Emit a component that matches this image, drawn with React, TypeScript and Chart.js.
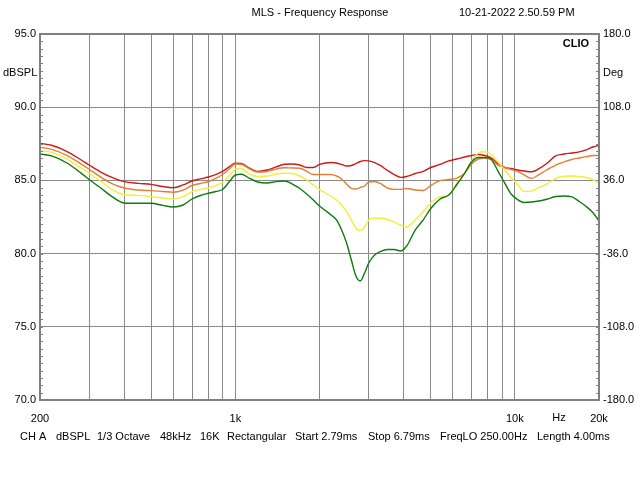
import React, { useEffect, useRef } from "react";
import { Chart, registerables } from "chart.js";

Chart.register(...registerables);

// Frequency points (Hz)
const FREQ = [
  200, 220, 250, 280, 300, 330, 360, 400, 450, 500,
  550, 600, 650, 700, 750, 800, 850, 900, 950, 1000,
  1050, 1120, 1200, 1300, 1400, 1500, 1600, 1700, 1800, 1900,
  2000, 2100, 2200, 2300, 2400, 2500, 2600, 2700, 2800, 2900,
  3000, 3150, 3300, 3500, 3700, 3900, 4100, 4400, 4700, 5000,
  5400, 5800, 6200, 6600, 7000, 7400, 7800, 8200, 8700, 9200,
  9700, 10200, 10800, 11500, 12200, 13000, 14000, 15000, 16000, 17000,
  18000, 19000, 20000,
];

// dBSPL curves
const RED = [
  87.53, 87.40, 86.97, 86.41, 86.05, 85.57, 85.22, 84.92, 84.80, 84.73,
  84.58, 84.50, 84.69, 84.96, 85.10, 85.23, 85.40, 85.61, 85.92, 86.17,
  86.15, 85.85, 85.61, 85.71, 85.92, 86.10, 86.12, 86.05, 85.88, 85.88,
  86.09, 86.19, 86.22, 86.19, 86.09, 85.98, 86.02, 86.15, 86.29, 86.35,
  86.33, 86.22, 86.02, 85.68, 85.40, 85.21, 85.27, 85.47, 85.62, 85.88,
  86.09, 86.33, 86.46, 86.60, 86.70, 86.77, 86.70, 86.56, 86.15, 85.88,
  85.81, 85.71, 85.64, 85.59, 85.80, 86.15, 86.67, 86.80, 86.87, 86.95,
  87.08, 87.28, 87.40,
];

const ORANGE = [
  87.26, 87.12, 86.70, 86.13, 85.76, 85.22, 84.80, 84.48, 84.34, 84.30,
  84.24, 84.19, 84.34, 84.65, 84.79, 84.91, 85.13, 85.40, 85.78, 86.12,
  86.10, 85.81, 85.57, 85.61, 85.78, 85.86, 85.85, 85.83, 85.61, 85.40,
  85.40, 85.40, 85.40, 85.30, 85.10, 84.75, 84.45, 84.41, 84.52, 84.62,
  84.89, 84.92, 84.79, 84.48, 84.39, 84.39, 84.45, 84.34, 84.31, 84.65,
  84.98, 85.06, 85.16, 85.47, 86.12, 86.46, 86.51, 86.43, 86.05, 85.88,
  85.74, 85.61, 85.37, 85.14, 85.40, 85.71, 86.05, 86.26, 86.43, 86.53,
  86.62, 86.70, 86.70,
];

const YELLOW = [
  87.03, 86.91, 86.46, 85.86, 85.49, 84.94, 84.41, 84.02, 83.98, 83.89,
  83.80, 83.73, 83.89, 84.24, 84.38, 84.48, 84.65, 84.89, 85.30, 85.76,
  85.81, 85.44, 85.27, 85.30, 85.44, 85.49, 85.47, 85.30, 85.03, 84.69,
  84.38, 84.14, 83.90, 83.66, 83.32, 82.86, 82.30, 81.75, 81.58, 81.82,
  82.30, 82.43, 82.41, 82.33, 82.16, 81.95, 81.82, 82.30, 82.86, 83.46,
  83.87, 84.00, 84.79, 85.44, 86.33, 86.87, 86.96, 86.80, 86.26, 85.71,
  85.16, 84.75, 84.24, 84.28, 84.52, 84.75, 85.13, 85.28, 85.30, 85.27,
  85.20, 85.06, 84.82,
];

const GREEN = [
  86.80, 86.67, 86.19, 85.51, 85.06, 84.48, 83.93, 83.46, 83.44, 83.44,
  83.29, 83.18, 83.32, 83.73, 83.97, 84.12, 84.24, 84.38, 84.89, 85.37,
  85.42, 85.16, 84.89, 84.82, 84.92, 84.96, 84.75, 84.45, 84.07, 83.66,
  83.25, 82.94, 82.64, 82.30, 81.61, 80.72, 79.56, 78.47, 78.13, 78.67,
  79.36, 79.90, 80.14, 80.28, 80.28, 80.18, 80.52, 81.61, 82.30, 83.08,
  83.73, 84.00, 84.72, 85.47, 86.26, 86.56, 86.56, 86.46, 85.64, 84.82,
  84.07, 83.70, 83.49, 83.52, 83.59, 83.71, 83.90, 83.93, 83.87, 83.56,
  83.22, 82.81, 82.23,
];

// Axis ticks and labels
const X_TICKS = [
  200, 300, 400, 500, 600, 700, 800, 900, 1000,
  2000, 3000, 4000, 5000, 6000, 7000, 8000, 9000, 10000, 20000,
];
const X_TICK_LABELS: Record<number, string> = {
  200: "200",
  1000: "1k",
  10000: "10k",
  20000: "20k",
};
const Y_MIN = 70;
const Y_MAX = 95;
const Y_STEP = 5;
const PHASE_MIN = -180;
const PHASE_MAX = 180;
const PHASE_STEP = 72;

const TITLE = "MLS - Frequency Response";
const DATE_TEXT = "10-21-2022 2.50.59 PM";
const LEFT_UNIT = "dBSPL";
const RIGHT_UNIT = "Deg";
const X_UNIT = "Hz";
const BRAND = "CLIO";
const FOOTER = [
  "CH A",
  "dBSPL",
  "1/3 Octave",
  "48kHz",
  "16K",
  "Rectangular",
  "Start 2.79ms",
  "Stop 6.79ms",
  "FreqLO 250.00Hz",
  "Length 4.00ms",
];

const FONT_FAMILY = '"Liberation Sans", Arial, sans-serif';
const GRID = "#8a8a8a";
const FRAME = "#808080";

const decorPlugin = {
  id: "decor",
  afterDatasetsDraw(chart: any) {
    const { ctx, chartArea: a, scales } = chart;
    ctx.save();
    // minor ticks inside the frame
    ctx.strokeStyle = FRAME;
    ctx.lineWidth = 1;
    for (let v = Y_MIN; v <= Y_MAX + 1e-9; v += 0.5) {
      const y = Math.round(scales.y.getPixelForValue(v)) + 0.5;
      ctx.beginPath();
      ctx.moveTo(a.left, y);
      ctx.lineTo(a.left + 3, y);
      ctx.moveTo(a.right - 3, y);
      ctx.lineTo(a.right, y);
      ctx.stroke();
    }
    // frame
    ctx.lineWidth = 2;
    ctx.strokeStyle = FRAME;
    ctx.strokeRect(a.left, a.top, a.right - a.left, a.bottom - a.top);

    // texts
    ctx.fillStyle = "#000";
    ctx.textBaseline = "middle";
    ctx.font = `11px ${FONT_FAMILY}`;
    ctx.textAlign = "center";
    ctx.fillText(TITLE, 320, 13);
    ctx.textAlign = "left";
    ctx.fillText(DATE_TEXT, 459, 13);
    ctx.fillText(LEFT_UNIT, 3, 73);
    ctx.fillText(RIGHT_UNIT, a.right + 4, 73);
    ctx.textAlign = "center";
    const xHz =
      (scales.x.getPixelForValue(10000) + scales.x.getPixelForValue(20000)) / 2 + 2;
    ctx.fillText(X_UNIT, xHz, 418);
    ctx.textAlign = "left";
    const footerX = [20, 56, 97, 160, 200, 227, 295, 368, 440, 537];
    FOOTER.forEach((t, i) => ctx.fillText(t, footerX[i], 437));
    ctx.font = `bold 11px ${FONT_FAMILY}`;
    ctx.textAlign = "right";
    ctx.fillText(BRAND, a.right - 10, a.top + 10);
    ctx.restore();
  },
};

function makeData(values: number[]) {
  return FREQ.map((f, i) => ({ x: f, y: values[i] }));
}

export default function App() {
  const canvasRef = useRef<HTMLCanvasElement | null>(null);

  useEffect(() => {
    const canvas = canvasRef.current;
    if (!canvas) return;
    const lineDs = (label: string, values: number[], color: string) => ({
      label,
      data: makeData(values),
      borderColor: color,
      backgroundColor: color,
      borderWidth: 1.4,
      pointRadius: 0,
      fill: false,
      cubicInterpolationMode: "monotone" as const,
      yAxisID: "y",
      xAxisID: "x",
    });
    const chart = new Chart(canvas, {
      type: "line",
      data: {
        datasets: [
          lineDs("Green", GREEN, "#0f7a12"),
          lineDs("Yellow", YELLOW, "#f2ee3a"),
          lineDs("Orange", ORANGE, "#e07f35"),
          lineDs("Red", RED, "#d01818"),
        ],
      },
      options: {
        responsive: false,
        animation: false,
        devicePixelRatio: 1,
        layout: { padding: { top: 34, left: 0, right: 0, bottom: 0 } },
        plugins: {
          legend: { display: false },
          tooltip: { enabled: false },
          title: { display: false },
        },
        scales: {
          x: {
            type: "logarithmic",
            min: 200,
            max: 20000,
            position: "bottom",
            afterBuildTicks: (scale: any) => {
              scale.ticks = X_TICKS.map((v) => ({ value: v }));
            },
            afterFit: (scale: any) => {
              scale.height = 80;
            },
            ticks: {
              autoSkip: false,
              maxRotation: 0,
              minRotation: 0,
              padding: 12,
              color: "#000",
              font: { family: FONT_FAMILY, size: 11 },
              callback: (value: any) => X_TICK_LABELS[Number(value)] ?? "",
            },
            grid: { color: GRID, lineWidth: 1, drawTicks: false },
            border: { display: false },
          },
          y: {
            type: "linear",
            position: "left",
            min: Y_MIN,
            max: Y_MAX,
            afterFit: (scale: any) => {
              scale.width = 40;
            },
            ticks: {
              stepSize: Y_STEP,
              padding: 4,
              color: "#000",
              font: { family: FONT_FAMILY, size: 11 },
              callback: (v: any) => Number(v).toFixed(1),
            },
            grid: { color: GRID, lineWidth: 1, drawTicks: false },
            border: { display: false },
          },
          y2: {
            type: "linear",
            position: "right",
            min: PHASE_MIN,
            max: PHASE_MAX,
            afterFit: (scale: any) => {
              scale.width = 41;
            },
            ticks: {
              stepSize: PHASE_STEP,
              padding: 4,
              color: "#000",
              font: { family: FONT_FAMILY, size: 11 },
              callback: (v: any) => Number(v).toFixed(1),
            },
            grid: { display: false, drawTicks: false },
            border: { display: false },
          },
        },
      },
      plugins: [decorPlugin],
    } as any);
    return () => chart.destroy();
  }, []);

  return (
    <div style={{ position: "absolute", left: 0, top: 0, width: 640, height: 480, background: "#fff" }}>
      <canvas ref={canvasRef} width={640} height={480} style={{ display: "block" }} />
    </div>
  );
}
